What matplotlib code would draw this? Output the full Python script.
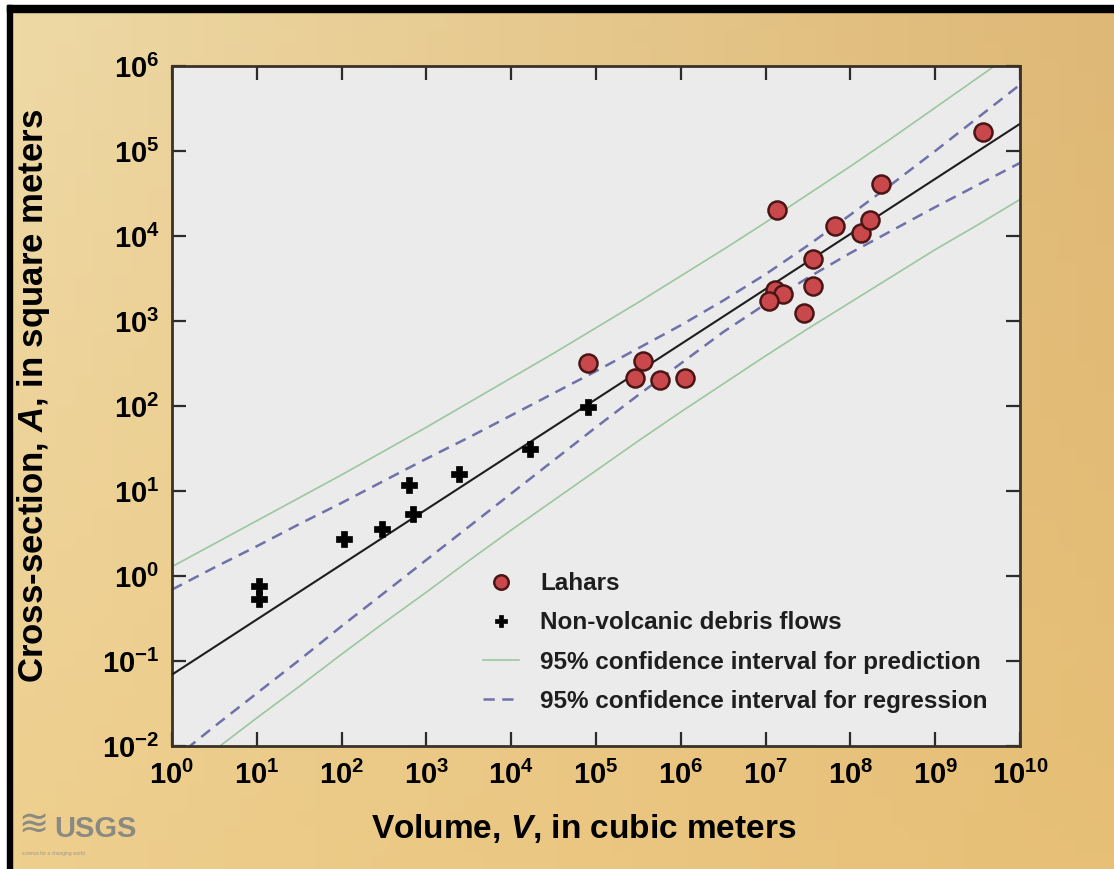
import matplotlib as mpl
mpl.use('Agg')
import matplotlib.pyplot as plt
import numpy as np
from matplotlib.patches import Rectangle
from matplotlib.ticker import FixedLocator, FuncFormatter, NullLocator

plt.rcParams['font.family'] = ['Liberation Sans', 'DejaVu Sans']
plt.rcParams['mathtext.fontset'] = 'custom'
plt.rcParams['mathtext.rm'] = 'Liberation Sans:bold'
plt.rcParams['mathtext.bf'] = 'Liberation Sans:bold'
plt.rcParams['mathtext.it'] = 'Liberation Sans:bold:italic'

# lahars, log10 of volume (m3) and cross-section (m2)
lahar_logv = [4.90, 5.56, 5.46, 5.75, 6.05, 7.13, 7.11, 7.21, 7.04, 7.45,
              7.56, 7.56, 7.82, 8.13, 8.23, 8.36, 9.56]
lahar_loga = [2.51, 2.53, 2.33, 2.31, 2.33, 4.31, 3.37, 3.32, 3.23, 3.10,
              3.41, 3.73, 4.12, 4.03, 4.19, 4.61, 5.22]

# non-volcanic debris flows
debris_logv = [1.03, 1.03, 2.03, 2.48, 2.79, 2.84, 3.38, 4.22, 4.91]
debris_loga = [-0.12, -0.27, 0.44, 0.55, 1.07, 0.73, 1.20, 1.50, 1.99]

# regression line end points (log10)
fit_logv = [0.0, 10.0]
fit_loga = [-1.16, 5.32]

# confidence bands read every half decade (log10 A)
band_logv = [0.0, 0.5, 1.0, 1.5, 2.0, 2.5, 3.0, 3.5, 4.0, 4.5, 5.0,
             5.5, 6.0, 6.5, 7.0, 7.5, 8.0, 8.5, 9.0, 9.5, 10.0]
pred_upper = [0.11, 0.38, 0.65, 0.92, 1.19, 1.47, 1.75, 2.04, 2.33, 2.62, 2.92,
              3.22, 3.53, 3.84, 4.16, 4.49, 4.82, 5.16, 5.51, 5.86, 6.21]
pred_lower = [-2.43, -2.05, -1.67, -1.30, -0.92, -0.55, -0.19, 0.18, 0.54, 0.89, 1.24,
              1.59, 1.93, 2.26, 2.59, 2.91, 3.22, 3.53, 3.84, 4.13, 4.43]
reg_upper = [-0.16, 0.10, 0.35, 0.61, 0.86, 1.12, 1.38, 1.63, 1.89, 2.15, 2.41,
             2.68, 2.95, 3.24, 3.55, 3.89, 4.25, 4.62, 5.00, 5.39, 5.78]
reg_lower = [-2.17, -1.77, -1.38, -0.99, -0.59, -0.20, 0.19, 0.58, 0.97, 1.36, 1.75,
             2.13, 2.50, 2.87, 3.20, 3.51, 3.80, 4.07, 4.34, 4.60, 4.86]

xticks = list(range(0, 11))
yticks = list(range(-2, 7))


def p10(v):
    return 10.0 ** np.asarray(v)


fig = plt.figure(figsize=(11.14, 8.69), dpi=100)

# tan background
bg = fig.add_axes([0, 0, 1, 1], zorder=-10)
bg.axis('off')
tl = np.array([238, 217, 166]) / 255
tr = np.array([222, 184, 118]) / 255
bl = np.array([238, 207, 142]) / 255
br = np.array([231, 191, 118]) / 255
u = np.linspace(0, 1, 60)[None, :, None]
v = np.linspace(0, 1, 60)[:, None, None]
grad = (1 - v) * ((1 - u) * tl + u * tr) + v * ((1 - u) * bl + u * br)
bg.imshow(grad, aspect='auto', extent=[0, 1, 0, 1], origin='upper')
bg.set_xlim(0, 1)
bg.set_ylim(0, 1)

W, H = 1114.0, 869.0
fig.add_artist(Rectangle((0, 1 - 5 / H), 1, 5 / H, transform=fig.transFigure, color='white', zorder=5))
fig.add_artist(Rectangle((0, 0), 7 / W, 1, transform=fig.transFigure, color='white', zorder=5))
fig.add_artist(Rectangle((7 / W, 1 - 12 / H), 1, 7 / H, transform=fig.transFigure, color='black', zorder=6))
fig.add_artist(Rectangle((7 / W, 0), 5 / W, 1 - 5 / H, transform=fig.transFigure, color='black', zorder=6))

ax = fig.add_axes([172 / W, 1 - 746 / H, 848 / W, 680 / H])
ax.set_facecolor('#ebebeb')
ax.set_xscale('log')
ax.set_yscale('log')

ax.plot(p10(band_logv), p10(pred_upper), color='#9cc79e', lw=1.2,
        label='95% confidence interval for prediction', zorder=2)
ax.plot(p10(band_logv), p10(pred_lower), color='#9cc79e', lw=1.2, zorder=2)
ax.plot(p10(band_logv), p10(reg_upper), color='#7070aa', lw=1.8, dashes=(4.5, 3),
        label='95% confidence interval for regression', zorder=2)
ax.plot(p10(band_logv), p10(reg_lower), color='#7070aa', lw=1.8, dashes=(4.5, 3), zorder=2)
ax.plot(p10(fit_logv), p10(fit_loga), color='#1e1e1e', lw=1.5, zorder=3)

ax.plot(p10(lahar_logv), p10(lahar_loga), ls='none', marker='o', ms=13,
        mfc='#c9484c', mec='#4a1515', mew=1.8, label='Lahars', zorder=4)
ax.plot(p10(debris_logv), p10(debris_loga), ls='none', marker='P', ms=11,
        mfc='black', mec='black', mew=0.5, label='Non-volcanic debris flows', zorder=4)

ax.set_xlim(1, 1e10)
ax.set_ylim(1e-2, 1e6)

fmt = FuncFormatter(lambda val, pos: r'$\mathbf{10^{%d}}$' % int(round(np.log10(val))))
ax.xaxis.set_major_locator(FixedLocator(p10(xticks)))
ax.yaxis.set_major_locator(FixedLocator(p10(yticks)))
ax.xaxis.set_minor_locator(NullLocator())
ax.yaxis.set_minor_locator(NullLocator())
ax.xaxis.set_major_formatter(fmt)
ax.yaxis.set_major_formatter(fmt)
ax.tick_params(axis='both', which='major', direction='in', length=10, width=1.6,
               color='#2b2b2b', top=True, right=True, labelsize=21)
ax.tick_params(axis='x', pad=11)
ax.tick_params(axis='y', pad=9)
for s in ax.spines.values():
    s.set_linewidth(2)
    s.set_color('#3a3228')

ax.set_xlabel(r'Volume, $\mathit{V}$, in cubic meters', fontsize=24, fontweight='bold')
ax.set_ylabel(r'Cross-section, $\mathit{A}$, in square meters', fontsize=25, fontweight='bold')
ax.xaxis.set_label_coords(0.485, -0.097)
ax.yaxis.set_label_coords(-0.141, 0.515)

handles, labels = ax.get_legend_handles_labels()
order = [2, 3, 0, 1]
leg = ax.legend([handles[i] for i in order], [labels[i] for i in order],
                loc='lower left', bbox_to_anchor=(311 / 848, 33 / 680),
                frameon=False, fontsize=17.5, handlelength=1.5, handletextpad=0.85,
                labelspacing=0.67, borderaxespad=0, borderpad=0, markerscale=0.8)
for t in leg.get_texts():
    t.set_fontweight('bold')
    t.set_color('#1e1e1e')

# USGS mark
fig.text(54 / W, 1 - 829 / H, 'USGS', fontsize=21, fontweight='bold', color='#8a8a82',
         ha='left', va='center')
fig.text(18 / W, 1 - 826 / H, '\u224b', fontsize=26, color='#8a8a82', ha='left', va='center',
         family=['DejaVu Sans'])
fig.text(22 / W, 1 - 854 / H, 'science for a changing world', fontsize=3.5, color='#9a9a90',
         ha='left', va='center')

fig.savefig('out.png', dpi=100)
